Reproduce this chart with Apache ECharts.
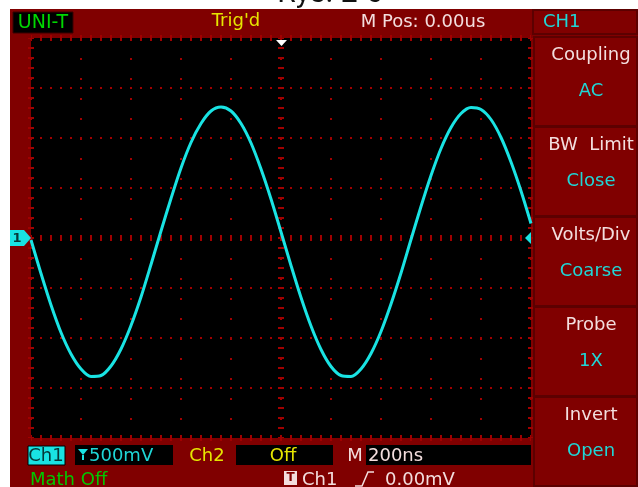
<!DOCTYPE html>
<html>
<head>
<meta charset="utf-8">
<style>
  html, body { margin: 0; padding: 0; background: #ffffff; }
  #scope { width: 638px; height: 487px; }
</style>
<script src="https://cdn.jsdelivr.net/npm/echarts@6/dist/echarts.min.js"></script>
</head>
<body>
<div id="scope"></div>
<script>
// Channel 1 capture: time in ns, voltage in mV (200 ns/div, 500 mV/div)
const timeNs = [0, 40, 80, 120, 160, 200, 240, 280, 320, 360, 400, 440, 480, 520, 560, 600, 640, 680, 720, 760,
  800, 840, 880, 920, 960, 1000, 1040, 1080, 1120, 1160, 1200, 1240, 1280, 1320, 1360, 1400, 1440, 1480, 1520,
  1560, 1600, 1640, 1680, 1720, 1760, 1800, 1840, 1880, 1920, 1960, 2000];
const ch1mV = [-20, -355, -670, -945, -1160, -1310, -1385, -1375, -1280, -1110, -875, -590, -265, 70, 395, 700,
  955, 1145, 1270, 1310, 1270, 1145, 950, 690, 390, 60, -275, -595, -880, -1115, -1285, -1375, -1385, -1310,
  -1155, -935, -660, -350, -15, 315, 625, 895, 1105, 1245, 1305, 1285, 1185, 1005, 760, 470, 145];

// Screen scales
const timeDivNs = 200;
const voltDivMv = 500;
const hDivs = 10;
const vDivs = 8;

// Status texts
const headerTexts = { brand: 'UNI-T', trig: "Trig'd", pos: 'M Pos: 0.00us', ch: 'CH1' };
const menuTitles = ['Coupling', 'BW  Limit', 'Volts/Div', 'Probe', 'Invert'];
const menuValues = ['AC', 'Close', 'Coarse', '1X', 'Open'];
const bottomTexts = { ch1: 'Ch1', ch1Scale: '500mV', ch2: 'Ch2', ch2State: 'Off', tb: 'M', tbScale: '200ns',
  math: 'Math Off', trigSrc: 'Ch1', trigLevel: '0.00mV' };

const RED = '#800000';
const DOT = '#a00000';
const CYAN = '#19e3e3';
const FONT = 'DejaVu Sans, sans-serif';

const chart = echarts.init(document.getElementById('scope'), null, { renderer: 'canvas' });

const G = { left: 31, top: 38, width: 500, height: 400 };
const tMax = timeDivNs * hDivs;
const vMax = voltDivMv * vDivs / 2;

function txt(x, y, text, color, size, align, weight) {
  return {
    type: 'text', x: x, y: y, z: 20,
    style: { text: text, fill: color, font: (weight || 'normal') + ' ' + (size || 18) + 'px ' + FONT,
      textAlign: align || 'left', textVerticalAlign: 'middle' }
  };
}
function rect(x, y, w, h, fill, stroke, lw, z) {
  return { type: 'rect', z: z == null ? 5 : z, shape: { x: x, y: y, width: w, height: h },
    style: { fill: fill, stroke: stroke || null, lineWidth: lw || 0 } };
}

const graphics = [];
// instrument frame (behind everything)
graphics.push(rect(10, 9, 628, 478, RED, null, 0, -100));
// page title, cut by the top edge
graphics.push({ type: 'text', x: 330, y: -6, z: 20, style: { text: 'Rys. 2-6', fill: '#111',
  font: '30px Roboto, sans-serif', textAlign: 'center', textVerticalAlign: 'middle' } });
// header
graphics.push(rect(13, 12, 60, 21, '#000', '#3a0000', 1, 6));
graphics.push(txt(43, 23, headerTexts.brand, '#00d800', 19, 'center'));
graphics.push(txt(236, 21, headerTexts.trig, '#e6e600', 18, 'center'));
graphics.push(txt(423, 22, headerTexts.pos, '#f3dede', 18, 'center'));
// right menu
graphics.push(rect(533, 10, 104, 24, RED, '#5c0000', 2, 4));
graphics.push(txt(543, 22, headerTexts.ch, '#1fd6d6', 18, 'left'));
const boxTops = [37, 127, 217, 307, 397];
for (let i = 0; i < menuTitles.length; i++) {
  const y0 = boxTops[i];
  graphics.push(rect(534, y0, 103, 89, RED, '#5c0000', 2, 4));
  graphics.push(txt(591, y0 + 18, menuTitles[i], '#f3dede', 18, 'center'));
  graphics.push(txt(591, y0 + 54, menuValues[i], '#1fd6d6', 18, 'center'));
}
// bottom status
graphics.push(rect(28, 446, 37, 19, CYAN, '#000', 1, 6));
graphics.push(txt(46, 456, bottomTexts.ch1, '#053838', 18, 'center'));
graphics.push(rect(75, 445, 98, 20, '#000', null, 0, 6));
graphics.push({ type: 'polygon', z: 20, shape: { points: [[78, 449], [88, 449], [83, 455]] }, style: { fill: CYAN } });
graphics.push({ type: 'rect', z: 20, shape: { x: 82, y: 455, width: 2, height: 5 }, style: { fill: CYAN } });
graphics.push(txt(89, 456, bottomTexts.ch1Scale, '#1fd6d6', 18, 'left'));
graphics.push(txt(207, 456, bottomTexts.ch2, '#e6e600', 18, 'center'));
graphics.push(rect(236, 445, 97, 20, '#000', null, 0, 6));
graphics.push(txt(283, 456, bottomTexts.ch2State, '#e6e600', 18, 'center'));
graphics.push(txt(355, 456, bottomTexts.tb, '#f3dede', 18, 'center'));
graphics.push(rect(366, 445, 165, 20, '#000', null, 0, 6));
graphics.push(txt(368, 456, bottomTexts.tbScale, '#f3dede', 18, 'left'));
graphics.push(txt(30, 480, bottomTexts.math, '#00c800', 18, 'left'));
graphics.push(rect(284, 471, 13, 14, '#f3dede', null, 0, 6));
graphics.push(txt(290.5, 478, 'T', RED, 12, 'center', 'bold'));
graphics.push(txt(302, 480, bottomTexts.trigSrc, '#f3dede', 18, 'left'));
graphics.push({ type: 'polyline', z: 20, shape: { points: [[355, 486], [362, 486], [368, 472], [374, 472]] },
  style: { stroke: '#f3dede', lineWidth: 1.5, fill: null } });
graphics.push(txt(385, 480, bottomTexts.trigLevel, '#f3dede', 18, 'left'));
// trigger position marker
graphics.push({ type: 'polygon', z: 20, shape: { points: [[276, 40], [287, 40], [281.5, 46]] }, style: { fill: '#ffffff' } });
// channel 1 ground marker
graphics.push({ type: 'polygon', z: 20, shape: { points: [[10, 230], [24, 230], [31, 238], [24, 246], [10, 246]] },
  style: { fill: CYAN } });
graphics.push(txt(17, 238.5, '1', '#053838', 13, 'center', 'bold'));
// trigger level marker
graphics.push({ type: 'polygon', z: 20, shape: { points: [[531, 232], [525, 238], [531, 244]] }, style: { fill: CYAN } });

const hidden = { show: false };
const option = {
  backgroundColor: '#ffffff',
  animation: false,
  graphic: graphics,
  grid: { left: G.left, top: G.top, width: G.width, height: G.height, containLabel: false,
    show: true, backgroundColor: '#000000', borderWidth: 0 },
  xAxis: [
    { type: 'value', min: 0, max: tMax, interval: timeDivNs, axisLabel: hidden, axisTick: hidden,
      axisLine: hidden, splitLine: { show: true, lineStyle: { color: DOT, width: 2, type: [2, 18], dashOffset: 0 } } },
    { type: 'value', min: 0, max: tMax, interval: tMax / 2, axisLabel: hidden, axisTick: hidden,
      axisLine: hidden, splitLine: { show: true, lineStyle: { color: DOT, width: 6, type: [2, 8], dashOffset: 1 } } }
  ],
  yAxis: [
    { type: 'value', min: -vMax, max: vMax, interval: voltDivMv, axisLabel: hidden, axisTick: hidden,
      axisLine: hidden, splitLine: { show: true, lineStyle: { color: DOT, width: 2, type: [2, 8], dashOffset: 1 } } },
    { type: 'value', min: -vMax, max: vMax, interval: vMax, axisLabel: hidden, axisTick: hidden,
      axisLine: hidden, splitLine: { show: true, lineStyle: { color: DOT, width: 6, type: [2, 8], dashOffset: 1 } } }
  ],
  series: [{
    type: 'line',
    xAxisIndex: 0, yAxisIndex: 0,
    data: timeNs.map((t, i) => [t, ch1mV[i]]),
    smooth: 0.3,
    showSymbol: false,
    lineStyle: { color: CYAN, width: 3 },
    z: 10
  }]
};
chart.setOption(option);
</script>
</body>
</html>
